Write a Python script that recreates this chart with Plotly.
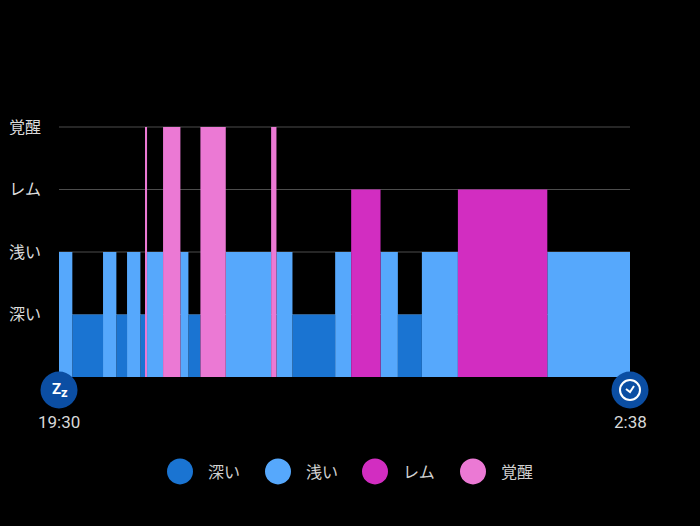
import plotly.graph_objects as go

# ---- data ----
stage_names = ["深い", "浅い", "レム", "覚醒"]          # level 1..4
stage_colors = ["#1A74D2", "#56A8FC", "#D22DC1", "#EB79D4"]
# segments: start time (HH:MM) and stage index (0..3)
seg_starts = ["19:30", "19:40", "20:03", "20:13", "20:21", "20:31", "20:35", "20:36",
              "20:48", "21:01", "21:07", "21:16", "21:35", "22:09", "22:13", "22:25",
              "22:57", "23:09", "23:31", "23:44", "0:02", "0:29", "1:36"]
seg_stages = [1, 0, 1, 0, 1, 0, 3, 1,
              3, 1, 0, 3, 1, 3, 1, 0,
              1, 2, 1, 0, 1, 2, 1]
end_time = "2:38"
hour_marks = ["20:00", "21:00", "22:00", "23:00", "0:00", "1:00", "2:00"]
start_label = "19:30"
end_label = "2:38"


def to_min(t, ref="19:30"):
    h, m = map(int, t.split(":"))
    rh, rm = map(int, ref.split(":"))
    v = h * 60 + m - (rh * 60 + rm)
    if v < 0:
        v += 24 * 60
    return v


starts = [to_min(t) for t in seg_starts]
ends = starts[1:] + [to_min(end_time)]
total = to_min(end_time)

fig = go.Figure()

for si, name in enumerate(stage_names):
    xs, ws, ys = [], [], []
    for s, e, st in zip(starts, ends, seg_stages):
        if st == si:
            xs.append((s + e) / 2)
            ws.append(e - s)
            ys.append(si + 1)
    fig.add_trace(go.Bar(x=xs, y=ys, width=ws, base=0, name=name,
                         marker=dict(color=stage_colors[si], line=dict(width=0)),
                         showlegend=False, hoverinfo="skip"))

# hour dots below axis
fig.add_trace(go.Scatter(x=[to_min(t) for t in hour_marks], y=[-0.24] * len(hour_marks),
                         mode="markers", marker=dict(color="#7a7a7a", size=7),
                         cliponaxis=False, showlegend=False, hoverinfo="skip"))

shapes = []
annotations = []

# gridlines
for lv in range(1, len(stage_names) + 1):
    shapes.append(dict(type="line", xref="paper", yref="y", x0=0, x1=1, y0=lv, y1=lv,
                       line=dict(color="#4d4d4d", width=1), layer="below"))

# start / end icons (paper refs so they are not clipped)
for xv in [0, 1]:
    shapes.append(dict(type="circle", xref="paper", yref="paper", xsizemode="pixel", ysizemode="pixel",
                       xanchor=xv, yanchor=0, x0=-18.5, x1=18.5, y0=-31.5, y1=5.5,
                       fillcolor="#0B4EA3", line=dict(width=0), layer="above"))

annotations.append(dict(x=0, y=0, xref="paper", yref="paper", yshift=-12, xshift=-3,
                        xanchor="center", yanchor="middle",
                        text="<b>Z</b>", showarrow=False,
                        font=dict(family="Roboto, Arial", size=15, color="white")))
annotations.append(dict(x=0, y=0, xref="paper", yref="paper", yshift=-15, xshift=5,
                        xanchor="center", yanchor="middle",
                        text="<b>z</b>", showarrow=False,
                        font=dict(family="Roboto, Arial", size=13, color="white")))

# clock icon
shapes.append(dict(type="circle", xref="paper", yref="paper", xsizemode="pixel", ysizemode="pixel",
                   xanchor=1, yanchor=0, x0=-10, x1=10, y0=-23, y1=-3,
                   line=dict(color="white", width=2), fillcolor="rgba(0,0,0,0)", layer="above"))
shapes.append(dict(type="path", xref="paper", yref="paper", xsizemode="pixel", ysizemode="pixel",
                   xanchor=1, yanchor=0, path="M -4,-12 L 0,-15 L 4,-9",
                   line=dict(color="white", width=2), layer="above"))

for xv, lab in [(0, start_label), (1, end_label)]:
    annotations.append(dict(x=xv, y=0, xref="paper", yref="paper", yshift=-45, text=lab,
                            xanchor="center", yanchor="middle", showarrow=False,
                            font=dict(family="Roboto, Noto Sans", size=17, color="#d8d8d8")))

# custom legend
leg_x = [180, 278, 375, 473]
for i, name in enumerate(stage_names):
    px = leg_x[i]
    shapes.append(dict(type="circle", xref="paper", yref="paper", xsizemode="pixel", ysizemode="pixel",
                       xanchor=(px - 59) / 571, yanchor=(377 - 471) / 250,
                       x0=-13, x1=13, y0=-13, y1=13,
                       fillcolor=stage_colors[i], line=dict(width=0)))
    annotations.append(dict(x=(px + 26 - 59) / 571, y=(377 - 471) / 250, xref="paper", yref="paper",
                            xanchor="left", yanchor="middle", text=name, showarrow=False,
                            font=dict(family="Noto Sans CJK JP", size=16, color="#d0d0d0")))

fig.update_layout(
    width=700, height=526,
    margin=dict(l=59, r=70, t=126, b=149, autoexpand=False),
    paper_bgcolor="#000000", plot_bgcolor="#000000",
    barmode="overlay",
    shapes=shapes, annotations=annotations,
    xaxis=dict(range=[0, total], showgrid=False, zeroline=False, showticklabels=False,
               fixedrange=True, automargin=False),
    yaxis=dict(range=[0, 4.016], tickvals=[1, 2, 3, 4], ticktext=stage_names,
               showgrid=False, zeroline=False, automargin=False, fixedrange=True,
               tickfont=dict(family="Noto Sans CJK JP", size=16, color="#dcdcdc"),
               ticklabelstandoff=17, ticks=""),
    showlegend=False,
)

fig.write_html("out.html", config={"displayModeBar": False},
               post_script="document.body.style.margin='0';document.body.style.background='#000';")
